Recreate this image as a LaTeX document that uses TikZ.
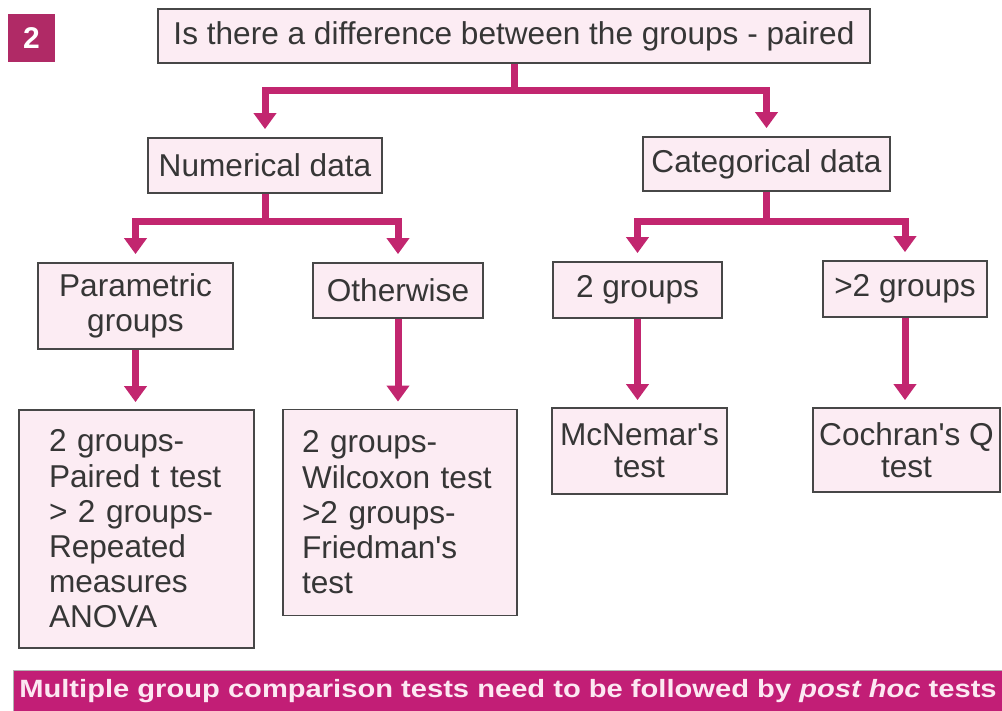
\documentclass[tikz,border=0pt]{standalone}
\usepackage{fontspec}
\setmainfont{Liberation Sans}[Ligatures=TeXOff]
\usetikzlibrary{arrows.meta}
\definecolor{boxfill}{HTML}{FCECF3}
\definecolor{boxline}{HTML}{474747}
\definecolor{txt}{HTML}{363636}
\definecolor{arrowc}{HTML}{C2266F}
\definecolor{banner}{HTML}{C21E76}
\definecolor{badge}{HTML}{B02A66}
\definecolor{bannertxt}{HTML}{FCE8F2}
\begin{document}
\begin{tikzpicture}[x=1pt,y=-1pt,
  box/.style={draw=boxline, line width=1.8pt, fill=boxfill, text=txt,
    font=\fontsize{31.6}{35.2}\selectfont, inner sep=0pt, align=center},
  tall/.style={box, font=\fontsize{31.6}{32}\selectfont},
  listbox/.style={box, align=left},
  link/.style={draw=arrowc, line width=7pt, line join=miter},
  down/.style={link, -{Triangle[width=22pt,length=16pt]}, shorten >=7pt},
  fork/.style={link, {Triangle[width=22pt,length=16pt]}-{Triangle[width=22pt,length=16pt]},
    shorten >=8pt, shorten <=8pt}
]
\useasboundingbox (0,0) rectangle (1002,711);
\fill[white] (0,0) rectangle (1002,711);

% section badge
\node[fill=badge, text=white, minimum width=47pt, minimum height=48pt, inner sep=0pt,
  font=\fontsize{30}{30}\selectfont\bfseries] (badge) at (31.5,38) {2};

% question
\node[box, minimum width=712pt, minimum height=54pt] (top) at (514,36)
  {Is there a difference between the groups - paired};

% data types
\node[box, minimum width=234pt, minimum height=55pt] (num) at (265,165.5) {Numerical data};
\node[box, minimum width=247pt, minimum height=54pt] (cat) at (766.5,164) {Categorical data};

% second level
\node[box, minimum width=195pt, minimum height=86pt] (par) at (135.5,306) {Parametric\\groups};
\node[box, minimum width=170pt, minimum height=55pt] (oth) at (398,290.5) {Otherwise};
\node[box, minimum width=169pt, minimum height=56pt] (two) at (637.5,290) {2 groups};
\node[box, minimum width=164pt, minimum height=56pt] (gt) at (905,289) {>2 groups};

% tests
\node[listbox, text width=175pt, inner xsep=30pt, minimum height=238pt] (b1) at (136.5,529)
  {2 groups-\\Paired t test\\> 2 groups-\\Repeated\\measures\\ANOVA};
\node[listbox, text width=196pt, inner xsep=19pt, minimum height=206pt] (b2) at (400,512.5)
  {2 groups-\\Wilcoxon test\\>2 groups-\\Friedman's\\test};
\node[tall, minimum width=175pt, minimum height=86pt] (mcn) at (639.5,451) {McNemar's\\test};
\node[tall, minimum width=187pt, minimum height=84pt] (coch) at (906.5,450) {Cochran's Q\\test};

% connectors
\draw[link] (top.south) -- ++(0,27) coordinate (j1);
\draw[fork] (num.north) |- (j1) -| (cat.north);
\draw[link] (num.south) -- ++(0,28) coordinate (j2);
\draw[fork] (par.north) |- (j2) -| (oth.north);
\draw[link] (cat.south) -- ++(0,30) coordinate (j3);
\draw[fork] (two.north) |- (j3) -| (gt.north);
\draw[down] (par.south) -- (b1.north -| par.south);
\draw[down] (oth.south) -- (b2.north -| oth.south);
\draw[down] (two.south) -- (mcn.north -| two.south);
\draw[down] (gt.south) -- (coch.north -| gt.south);

% note
\node[fill=banner, draw=gray!60, line width=0.8pt, minimum width=990pt, minimum height=42pt, inner sep=0pt,
  text=bannertxt, font=\fontsize{25}{25}\selectfont\bfseries] (note) at (508,691)
  {\scalebox{1.165}[1]{Multiple group comparison tests need to be followed by \textit{post hoc} tests}};
\end{tikzpicture}
\end{document}
